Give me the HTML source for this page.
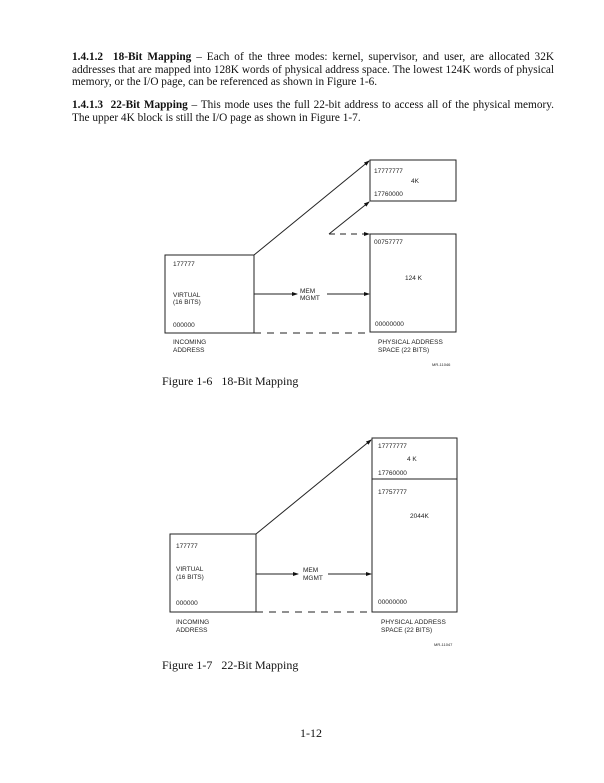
<!DOCTYPE html>
<html><head><meta charset="utf-8"><style>
html,body{margin:0;padding:0;background:#fff;}
body{width:604px;height:783px;position:relative;overflow:hidden;font-family:"Liberation Serif",serif;color:#111;}
.l{position:absolute;left:72px;width:482px;font-size:11.3px;line-height:12px;white-space:nowrap;}
.j{text-align:justify;text-align-last:justify;white-space:normal;height:12px;}
svg{position:absolute;left:0;top:0;}
</style></head><body>
<div class="l j" style="top:51px"><b>1.4.1.2 &nbsp;18-Bit Mapping</b> – Each of the three modes: kernel, supervisor, and user, are allocated 32K</div>
<div class="l j" style="top:63.5px">addresses that are mapped into 128K words of physical address space. The lowest 124K words of physical</div>
<div class="l" style="top:76px">memory, or the I/O page, can be referenced as shown in Figure 1-6.</div>
<div class="l j" style="top:99px"><b>1.4.1.3 &nbsp;22-Bit Mapping</b> – This mode uses the full 22-bit address to access all of the physical memory.</div>
<div class="l" style="top:111.5px">The upper 4K block is still the I/O page as shown in Figure 1-7.</div>
<div class="l" style="left:162px;top:375px;font-size:12px">Figure 1-6 &nbsp;&nbsp;18-Bit Mapping</div>
<div class="l" style="left:162px;top:659px;font-size:12px">Figure 1-7 &nbsp;&nbsp;22-Bit Mapping</div>
<div class="l" style="left:300px;top:727px;font-size:12px">1-12</div>
<svg width="604" height="783" font-family="Liberation Sans, sans-serif" font-size="6.5" fill="#222">
<defs><marker id="a" markerWidth="6" markerHeight="6" refX="5" refY="3" orient="auto" markerUnits="userSpaceOnUse"><path d="M0,1 L6,3 L0,5z" fill="#111"/></marker></defs>
<g stroke="#222" stroke-width="1" fill="none">
<rect x="370" y="160" width="86" height="41"/>
<rect x="370" y="234" width="86" height="98"/>
<rect x="165" y="255" width="89" height="78"/>
<line x1="254" y1="255" x2="369" y2="161" marker-end="url(#a)"/>
<line x1="329" y1="234" x2="369" y2="202" marker-end="url(#a)"/>
<line x1="329" y1="234" x2="369" y2="234" stroke-dasharray="6,5" marker-end="url(#a)"/>
<line x1="254" y1="294" x2="297" y2="294" marker-end="url(#a)"/>
<line x1="327" y1="294" x2="369" y2="294" marker-end="url(#a)"/>
<line x1="254" y1="333" x2="370" y2="333" stroke-dasharray="7,6"/>

<rect x="372" y="438" width="85" height="174"/>
<line x1="372" y1="479" x2="457" y2="479"/>
<rect x="170" y="534" width="86" height="78"/>
<line x1="256" y1="534" x2="371" y2="440" marker-end="url(#a)"/>
<line x1="256" y1="574" x2="298" y2="574" marker-end="url(#a)"/>
<line x1="328" y1="574" x2="371" y2="574" marker-end="url(#a)"/>
<line x1="256" y1="612" x2="372" y2="612" stroke-dasharray="7,6"/>
</g>
<g stroke="none">
<text x="374" y="173">17777777</text><text x="411" y="183">4K</text><text x="374" y="196">17760000</text>
<text x="374" y="244">00757777</text><text x="405" y="280">124 K</text><text x="375" y="326">00000000</text>
<text x="173" y="266">177777</text><text x="173" y="297">VIRTUAL</text><text x="173" y="304">(16 BITS)</text><text x="173" y="327">000000</text>
<text x="300" y="293">MEM</text><text x="300" y="300">MGMT</text>
<text x="173" y="344">INCOMING</text><text x="173" y="352">ADDRESS</text>
<text x="378" y="344">PHYSICAL ADDRESS</text><text x="378" y="352">SPACE (22 BITS)</text>
<text x="432" y="366" font-size="4">MR-11046</text>

<text x="378" y="448">17777777</text><text x="407" y="461">4 K</text><text x="378" y="475">17760000</text>
<text x="378" y="494">17757777</text><text x="410" y="518">2044K</text><text x="378" y="604">00000000</text>
<text x="176" y="548">177777</text><text x="176" y="571">VIRTUAL</text><text x="176" y="579">(16 BITS)</text><text x="176" y="605">000000</text>
<text x="303" y="572">MEM</text><text x="303" y="580">MGMT</text>
<text x="176" y="624">INCOMING</text><text x="176" y="632">ADDRESS</text>
<text x="381" y="624">PHYSICAL ADDRESS</text><text x="381" y="632">SPACE (22 BITS)</text>
<text x="434" y="646" font-size="4">MR-11047</text>
</g>
</svg>
</body></html>
